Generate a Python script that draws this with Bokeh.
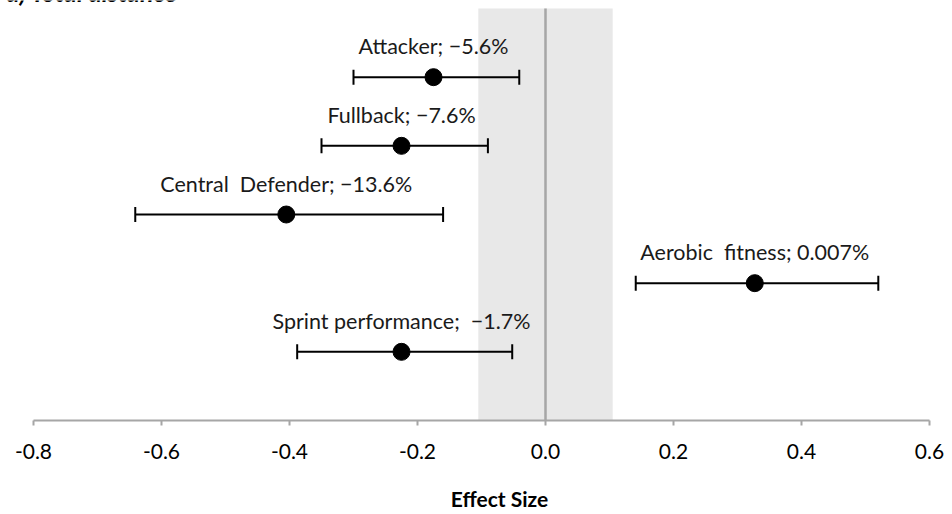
from bokeh.plotting import figure
from bokeh.models import (ColumnDataSource, Whisker, TeeHead, Label, FixedTicker, Range1d)
from bokeh.core.properties import value
from bokeh.embed import file_html
from bokeh.resources import INLINE

# ---- data ----
NB = "\u00a0"
labels = ["Attacker; \u22125.6%", "Fullback; \u22127.6%", "Central " + NB + "Defender; \u221213.6%",
          "Aerobic " + NB + "fitness; 0.007%", "Sprint performance; " + NB + "\u22121.7%"]
rows = [5, 4, 3, 2, 1]
effect = [-0.175, -0.225, -0.405, 0.327, -0.225]
ci_low = [-0.300, -0.350, -0.641, 0.141, -0.388]
ci_high = [-0.041, -0.090, -0.160, 0.520, -0.052]
swc = 0.105
tick_values = [-0.8, -0.6, -0.4, -0.2, 0.0, 0.2, 0.4, 0.6]
tick_labels = ["-0.8", "-0.6", "-0.4", "-0.2", "0.0", "0.2", "0.4", "0.6"]
title_text = "a) Total distance"
xlabel = "Effect Size"

FONT = "Lato"
PX_PER_Y = 412 / 6

src = ColumnDataSource(dict(y=rows, x=effect, lo=ci_low, hi=ci_high, label=labels))

p = figure(width=952, height=514, output_backend="svg", toolbar_location=None,
           x_range=Range1d(-545 / 640, 407 / 640), y_range=Range1d(0, 420 / PX_PER_Y),
           min_border_left=0, min_border_right=0, min_border_top=0, min_border_bottom=94)
p.outline_line_color = None
p.xgrid.visible = False
p.ygrid.visible = False
p.yaxis.visible = False
p.background_fill_color = "white"

# trivial zone band and zero line
p.quad(left=[-swc], right=[swc], bottom=[0], top=[6], fill_color="#e8e8e8", line_color=None)
p.segment(x0=[0], x1=[0], y0=[0], y1=[6], line_color="#a6a6a6", line_width=2.5)

# confidence intervals
w = Whisker(source=src, base="y", lower="lo", upper="hi", dimension="width",
            line_color="black", line_width=2, level="annotation",
            lower_head=TeeHead(size=15, line_color="black", line_width=2),
            upper_head=TeeHead(size=15, line_color="black", line_width=2))
p.add_layout(w)

p.scatter("x", "y", source=src, size=17, color="black", level="annotation")
p.text("x", "y", text="label", source=src, text_align="center", text_baseline="middle",
       y_offset=-31, text_font=value(FONT), text_font_size="21.5px", text_color="#1a1a1a")

# title (partly cut off at top, as in the reference)
p.add_layout(Label(x=6, y=(420 + 9) / PX_PER_Y, x_units="screen", text=title_text,
                   text_font=FONT, text_font_size="25px", text_font_style="bold italic",
                   text_baseline="alphabetic", text_align="left", text_color="black"))

ax = p.xaxis[0]
ax.bounds = (-0.8, 0.6)
ax.ticker = FixedTicker(ticks=tick_values)
ax.major_label_overrides = {v: t for v, t in zip(tick_values, tick_labels)}
ax.minor_tick_line_color = None
ax.major_tick_in = 0
ax.major_tick_out = 5
ax.major_tick_line_color = "#a6a6a6"
ax.major_tick_line_width = 2
ax.axis_line_color = "#a6a6a6"
ax.axis_line_width = 2
ax.major_label_text_font = FONT
ax.major_label_text_font_size = "21px"
ax.major_label_text_color = "black"
ax.major_label_standoff = 18
# leading no-break spaces shift the centred axis title right, as in the reference
ax.axis_label = NB * 9 + xlabel
ax.axis_label_text_font = FONT
ax.axis_label_text_font_size = "21px"
ax.axis_label_text_font_style = "bold"
ax.axis_label_text_color = "black"
ax.axis_label_standoff = 24

open("out.html", "w").write(file_html(p, INLINE))
